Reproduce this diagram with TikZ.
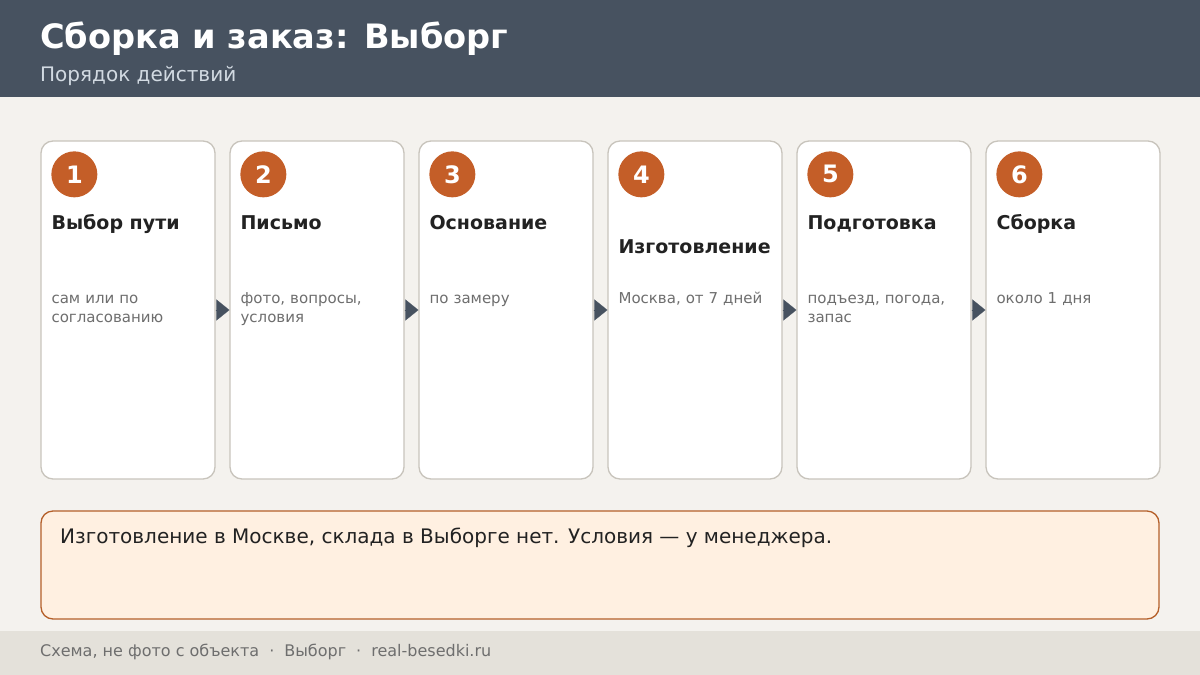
\documentclass[tikz,border=0pt]{standalone}
\usepackage{fontspec}
\setmainfont{DejaVu Sans}
\usetikzlibrary{arrows.meta}

% Colours
\definecolor{headbg}{HTML}{475260}
\definecolor{headsub}{HTML}{D2DAE2}
\definecolor{pagebg}{HTML}{F4F2EE}
\definecolor{cardline}{HTML}{C8C4BC}
\definecolor{stepfill}{HTML}{C45E28}
\definecolor{titletext}{HTML}{222222}
\definecolor{desctext}{HTML}{6E6E6E}
\definecolor{notefill}{HTML}{FFF0E1}
\definecolor{noteline}{HTML}{B5602A}
\definecolor{footbg}{HTML}{E4E1DA}

\tikzset{
  card/.style={draw=cardline, line width=1.3pt, fill=white, rounded corners=12pt,
    minimum width=174pt, minimum height=338pt, inner sep=0pt},
  stepnum/.style={circle, fill=stepfill, minimum size=46pt, inner sep=0pt,
    text=white, font=\fontsize{24}{24}\selectfont\bfseries},
  steptitle/.style={anchor=base west, inner sep=0pt, text=titletext,
    font=\fontsize{19}{22}\selectfont\bfseries},
  stepdesc/.style={anchor=base west, inner sep=0pt, text=desctext,
    text width=160pt, align=left, font=\fontsize{15}{19}\selectfont},
  flow/.style={draw=headbg, fill=headbg, line width=0.1pt,
    -{Triangle[length=13pt,width=21pt]}},
  notebox/.style={draw=noteline, line width=1.3pt, fill=notefill, rounded corners=12pt,
    minimum width=1118pt, minimum height=108pt, inner sep=0pt},
}

\begin{document}
\begin{tikzpicture}[x=1pt, y=-1pt]

    % Page background (fixes the size)
    \fill[pagebg] (0,0) rectangle (1200,675);

    % Header band
    \fill[headbg] (0,0) rectangle (1200,97);
    \node[anchor=base west, inner sep=0pt, text=white,
      font=\fontsize{33.6}{38}\selectfont\bfseries] (title) at (40,48) {Сборка и заказ: Выборг};
    \node[anchor=base west, inner sep=0pt, text=headsub,
      font=\fontsize{20}{24}\selectfont] (subtitle) at (40,81) {Порядок действий};

    % Cards, one per step
    \node[card] (c1) at (128,310) {};
    \node[card] (c2) at (317,310) {};
    \node[card] (c3) at (506,310) {};
    \node[card] (c4) at (695,310) {};
    \node[card] (c5) at (884,310) {};
    \node[card] (c6) at (1073,310) {};

    % Step 1
    \node[stepnum] (n1) at ([xshift=34pt,yshift=-34pt]c1.north west) {1};
    \node[steptitle] (t1) at ([xshift=11pt,yshift=-89pt]c1.north west) {Выбор пути};
    \node[stepdesc] (d1) at ([xshift=11pt,yshift=-163pt]c1.north west) {сам или по\\согласованию};

    % Step 2
    \node[stepnum] (n2) at ([xshift=34pt,yshift=-34pt]c2.north west) {2};
    \node[steptitle] (t2) at ([xshift=11pt,yshift=-89pt]c2.north west) {Письмо};
    \node[stepdesc] (d2) at ([xshift=11pt,yshift=-163pt]c2.north west) {фото, вопросы,\\условия};

    % Step 3
    \node[stepnum] (n3) at ([xshift=34pt,yshift=-34pt]c3.north west) {3};
    \node[steptitle] (t3) at ([xshift=11pt,yshift=-89pt]c3.north west) {Основание};
    \node[stepdesc] (d3) at ([xshift=11pt,yshift=-163pt]c3.north west) {по замеру};

    % Step 4 (title sits lower)
    \node[stepnum] (n4) at ([xshift=34pt,yshift=-34pt]c4.north west) {4};
    \node[steptitle] (t4) at ([xshift=11pt,yshift=-113pt]c4.north west) {Изготовление};
    \node[stepdesc] (d4) at ([xshift=11pt,yshift=-163pt]c4.north west) {Москва, от 7 дней};

    % Step 5
    \node[stepnum] (n5) at ([xshift=34pt,yshift=-34pt]c5.north west) {5};
    \node[steptitle] (t5) at ([xshift=11pt,yshift=-89pt]c5.north west) {Подготовка};
    \node[stepdesc] (d5) at ([xshift=11pt,yshift=-163pt]c5.north west) {подъезд, погода,\\запас};

    % Step 6
    \node[stepnum] (n6) at ([xshift=34pt,yshift=-34pt]c6.north west) {6};
    \node[steptitle] (t6) at ([xshift=11pt,yshift=-89pt]c6.north west) {Сборка};
    \node[stepdesc] (d6) at ([xshift=11pt,yshift=-163pt]c6.north west) {около 1 дня};

    % Arrows between the cards
    \draw[flow] (c1.east) -- (c2.west);
    \draw[flow] (c2.east) -- (c3.west);
    \draw[flow] (c3.east) -- (c4.west);
    \draw[flow] (c4.east) -- (c5.west);
    \draw[flow] (c5.east) -- (c6.west);

    % Note box
    \node[notebox] (note) at (600,565) {};
    \node[anchor=base west, inner sep=0pt, text=titletext,
      font=\fontsize{20}{24}\selectfont] (notetext) at (60,543)
      {Изготовление в Москве, склада в Выборге нет. Условия — у менеджера.};

    % Footer band
    \fill[footbg] (0,631) rectangle (1200,675);
    \node[anchor=base west, inner sep=0pt, text=desctext,
      font=\fontsize{16}{19}\selectfont] (foot) at (40,656)
      {Схема, не фото с объекта\hspace{10pt}·\hspace{10pt}Выборг\hspace{10pt}·\hspace{10pt}real-besedki.ru};

\end{tikzpicture}
\end{document}
